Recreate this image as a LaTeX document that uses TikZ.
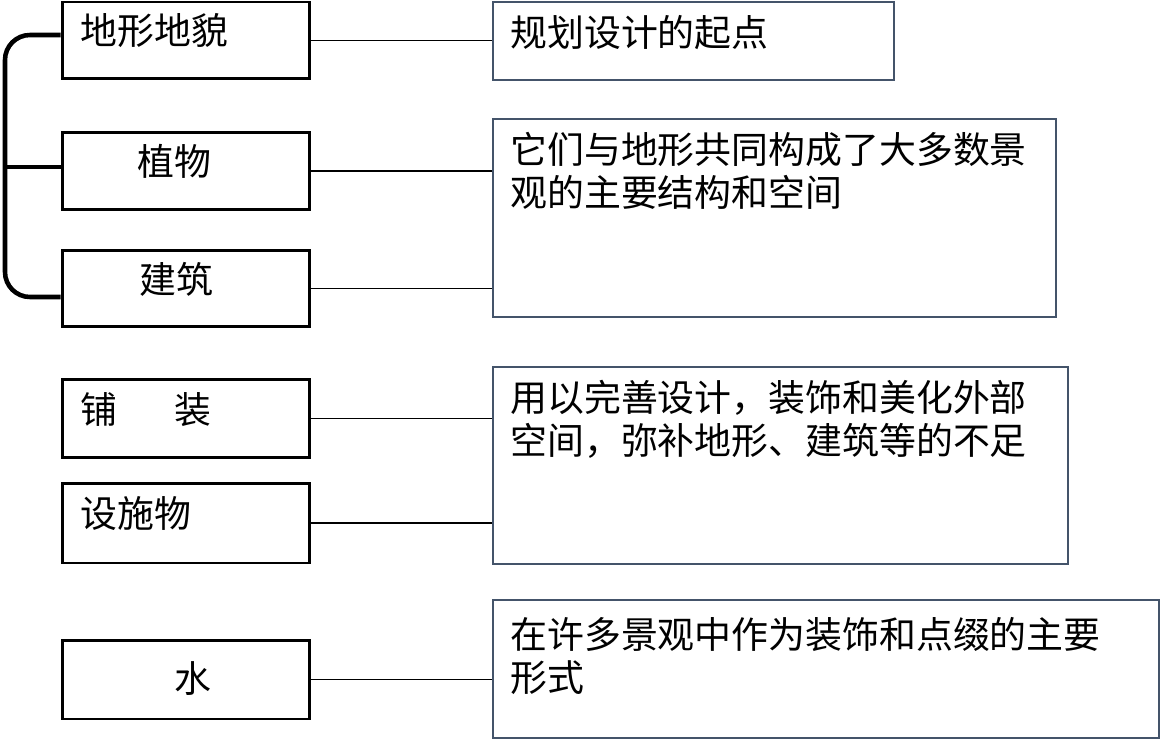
\documentclass[tikz,border=0pt]{standalone}
\usepackage{fontspec}
\setmainfont{Noto Sans CJK SC}
\usepackage{tikz}
\usetikzlibrary{calc}
\definecolor{slate}{HTML}{44546A}

\begin{document}
\begin{tikzpicture}[x=0.02cm,y=-0.02cm,
    lbox/.style={draw=black,line width=1.7pt,minimum width=4.96cm,inner sep=0pt},
    rbox/.style={draw=slate,line width=1.25pt,inner sep=0pt},
    txt/.style={inner sep=0pt,font=\fontsize{21pt}{24.5pt}\selectfont,align=left},
    link/.style={line width=1pt},
    brace/.style={line width=2.6pt,rounded corners=0.5cm}]
        \useasboundingbox (0,0) rectangle (1161,740);
        % left column
        \node[lbox,minimum height=1.54cm] (dx) at (186,40.5) {};
        \node[lbox,minimum height=1.56cm] (zw) at (186,171) {};
        \node[lbox,minimum height=1.54cm] (jz) at (186,288.5) {};
        \node[lbox,minimum height=1.58cm] (pz) at (186,418.5) {};
        \node[lbox,minimum height=1.60cm] (ss) at (186,523) {};
        \node[lbox,minimum height=1.58cm] (sh) at (186,679.5) {};
        \node[txt,anchor=west] (tdx) at (80,31) {地形地貌};
        \node[txt,anchor=west] (tzw) at (137,161) {植物};
        \node[txt,anchor=west] (tjz) at (139,279) {建筑};
        \node[txt,anchor=west] (tpz) at (80,410) {铺\hspace{1.55em}装};
        \node[txt,anchor=west] (tss) at (80,514) {设施物};
        \node[txt,anchor=west] (tsh) at (174,679) {水};
        % right column
        \node[rbox,minimum width=8.02cm,minimum height=1.56cm] (r1) at (693.5,41) {};
        \node[rbox,minimum width=11.26cm,minimum height=3.96cm] (r2) at (774.5,218) {};
        \node[rbox,minimum width=11.5cm,minimum height=3.94cm] (r3) at (780.5,465.5) {};
        \node[rbox,minimum width=13.32cm,minimum height=2.76cm] (r4) at (826,669) {};
        \node[txt,anchor=north west] (tr1) at (510,15) {规划设计的起点};
        \node[txt,anchor=north west] (tr2) at (510,132) {它们与地形共同构成了大多数景\\观的主要结构和空间};
        \node[txt,anchor=north west] (tr3) at (510,380) {用以完善设计，装饰和美化外部\\空间，弥补地形、建筑等的不足};
        \node[txt,anchor=north west] (tr4) at (510,617) {在许多景观中作为装饰和点缀的主要\\形式};
        % connectors
        \draw[link] (dx.east) -- (dx.east -| r1.west);
        \draw[link] (zw.east) -- (zw.east -| r2.west);
        \draw[link] (jz.east) -- (jz.east -| r2.west);
        \draw[link] (pz.east) -- (pz.east -| r3.west);
        \draw[link] (ss.east) -- (ss.east -| r3.west);
        \draw[link] (sh.east) -- (sh.east -| r4.west);
        % bracket
        \draw[brace] ($(dx.west)+(0,-5.5)$) -- (5,35) -- (5,297) -- ($(jz.west)+(0,8.5)$);
        \draw[line width=2.6pt] (5,167) -- ($(zw.west)+(0,-4)$);
\end{tikzpicture}
\end{document}
